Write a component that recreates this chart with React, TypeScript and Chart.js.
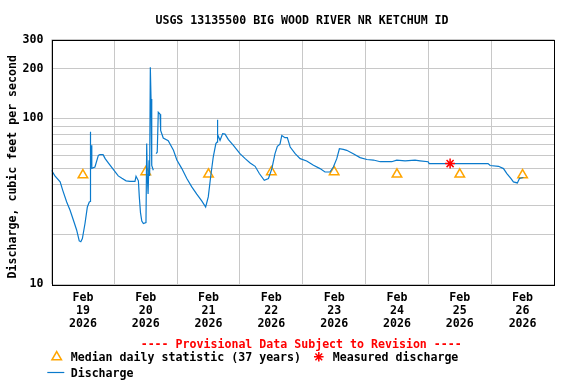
import React, { useEffect, useRef } from "react";
import { Chart, registerables } from "chart.js";

Chart.register(...registerables);

// ---- Text ----
const chartTitle = "USGS 13135500 BIG WOOD RIVER NR KETCHUM ID";
const yAxisTitle = "Discharge, cubic feet per second";
const provisionalNote = "---- Provisional Data Subject to Revision ----";
const legendMedian = "Median daily statistic (37 years)";
const legendMeasured = "Measured discharge";
const legendDischarge = "Discharge";

// ---- Axis labels ----
const monthLabel = "Feb";
const yearLabel = "2026";
const dayLabels = ["19", "20", "21", "22", "23", "24", "25", "26"];
const yTickLabels = [10, 100, 200, 300];
const yGridValues = [10, 20, 30, 40, 50, 60, 70, 80, 90, 100, 200, 300];
const xTickHours = [0, 12, 24, 36, 48, 60, 72, 84, 96, 108, 120, 132, 144, 156, 168, 180, 192];

// ---- Discharge series (hours since Feb 19 00:00, cfs) ----
const hours = [
  0, 1.3, 3.3, 4.3, 5.8, 7.1, 8.6, 9.6, 10.6, 11.2, 11.8, 12.8, 13.7, 14.45, 14.75,
  14.83, 14.98, 15.2, 15.4, 16.6, 17.9, 18.5, 19.7, 20.5, 21.7, 23.6, 25.5, 26.9, 28.5,
  30.0, 31.9, 32.3, 33.2, 33.55, 34.0, 34.5, 35.1, 36.1, 36.38, 36.6, 36.9, 37.26, 37.5,
  37.76, 38.03, 38.3, 38.9, 39.5, 39.95, 40.4, 40.8, 41.5, 41.7, 42.7, 44.6, 46.6, 47.9,
  49.8, 51.7, 53.6, 55.5, 57.4, 58.9, 59.9, 60.8, 61.8, 62.8, 63.25, 63.36, 63.56, 64.4,
  65.4, 66.3, 67.6, 69.5, 72.0, 74.0, 75.9, 77.8, 79.4, 81.3, 82.9, 84.2, 85.4, 86.3,
  87.3, 88.0, 89.2, 90.1, 91.2, 93.1, 95.0, 97.5, 100.1, 102.6, 104.5, 106.4, 107.7,
  109.0, 110.0, 111.5, 112.8, 115.3, 117.9, 120.5, 123.0, 125.6, 130.0, 131.9, 135.1,
  138.9, 140.8, 143.9, 144.3, 152.3, 159.9, 166.8, 167.6, 170.8, 172.7, 174.0, 175.5,
  176.5, 178.0, 178.8, 180.3
];
const discharge: (number | null)[] = [
  48.7, 45, 41.4, 36.8, 31.3, 27.9, 23.7, 21.2, 18.2, 18.0, 18.8, 23.2, 29.2, 31.3, 31.5,
  83, 62, 68.8, 50, 50.9, 59.9, 60.5, 60.5, 57.2, 53.9, 49.2, 45, 43.5, 42,
  41.7, 41.7, 44.8, 42, 33.6, 27, 24, 23.2, 23.5, 70.5, 45, 35, 56, 45,
  204, 131, 52, 48.7, null, 61.3, 62.5, 109, 106, 84.8, 76.2, 73.5, 64.2, 56.1,
  49.8, 43.4, 38.6, 34.9, 31.8, 29.2, 33.6, 44.3, 58.5, 70.5, 72, 98.4, 80, 73.8,
  81, 80.5, 74.5, 68.8, 61.3, 57.2, 53.9, 51.4, 46.5, 42.3, 43.4, 49.8, 61.3, 67.9,
  69.9, 79, 76.6, 76.6, 67.2, 61.3, 57.2, 55.4, 52.1, 49.8, 47.5, 47.5, 50.9,
  57.2, 65.6, 65, 64.2, 61.3, 58, 56.5, 56.1, 54.8, 54.8, 56, 55.5,
  56, 55.5, 54.8, 53.4, 53.4, 53.4, 53.4, 52, 51.4, 49.8, 46.5, 43.4,
  41.4, 40.8, 43.4, 44
];

// ---- Median daily statistic ----
const medianHours = [12, 36, 60, 84, 108, 132, 156, 180];
const medianValues = [45.5, 47.5, 46, 47.5, 47.5, 46, 46, 45.5];

// ---- Measured discharge ----
const measuredHours = [152.3];
const measuredValues = [53.4];

const FONT_FAMILY = '"DejaVu Sans Mono", "Liberation Mono", monospace';
const GRID = "#c8c8c8";
const LINE_BLUE = "#0a7acc";
const ORANGE = "#ffa500";
const RED = "#ff0000";

const overlayPlugin = {
  id: "overlayText",
  afterDraw(chart: any) {
    const { ctx, chartArea } = chart;
    const { left, right, top, bottom } = chartArea;
    ctx.save();
    // frame
    ctx.strokeStyle = "#000";
    ctx.lineWidth = 1;
    ctx.strokeRect(Math.round(left) + 0.5, Math.round(top) + 0.5, Math.round(right - left) - 1, Math.round(bottom - top));

    ctx.font = `bold 11.6px ${FONT_FAMILY}`;
    ctx.fillStyle = "#000";
    ctx.textBaseline = "alphabetic";

    // title
    ctx.textAlign = "center";
    ctx.fillText(chartTitle, 302, 24);

    // y title
    ctx.save();
    ctx.translate(15.5, 166.7);
    ctx.rotate(-Math.PI / 2);
    ctx.textAlign = "center";
    ctx.fillText(yAxisTitle, 0, 0);
    ctx.restore();

    // provisional note
    ctx.fillStyle = RED;
    ctx.textAlign = "center";
    ctx.fillText(provisionalNote, 301.2, 347.5);

    // legend row 1
    ctx.fillStyle = "#000";
    ctx.textAlign = "left";
    ctx.fillText(legendMedian, 70.7, 360.7);
    ctx.fillText(legendMeasured, 332.7, 360.7);
    ctx.fillText(legendDischarge, 70.7, 376.7);

    // triangle symbol
    const r = 5.5;
    const tx = 56.7, ty = 357;
    ctx.strokeStyle = ORANGE;
    ctx.lineWidth = 1.5;
    ctx.beginPath();
    for (let i = 0; i < 3; i++) {
      const a = (i * 2 * Math.PI) / 3;
      const px = tx + Math.sin(a) * r;
      const py = ty - Math.cos(a) * r;
      if (i === 0) ctx.moveTo(px, py); else ctx.lineTo(px, py);
    }
    ctx.closePath();
    ctx.stroke();

    // star symbol
    const sx = 318.8, sy = 356.8, sr = 4.8;
    ctx.strokeStyle = RED;
    ctx.lineWidth = 1.5;
    ctx.beginPath();
    for (let i = 0; i < 4; i++) {
      const a = (i * Math.PI) / 4;
      ctx.moveTo(sx - Math.cos(a) * sr, sy - Math.sin(a) * sr);
      ctx.lineTo(sx + Math.cos(a) * sr, sy + Math.sin(a) * sr);
    }
    ctx.stroke();

    // line symbol
    ctx.strokeStyle = LINE_BLUE;
    ctx.lineWidth = 1.2;
    ctx.beginPath();
    ctx.moveTo(47.3, 372.5);
    ctx.lineTo(64.3, 372.5);
    ctx.stroke();

    ctx.restore();
  },
};

export default function App() {
  const canvasRef = useRef<HTMLCanvasElement | null>(null);

  useEffect(() => {
    const canvas = canvasRef.current;
    if (!canvas) return;
    const lineData = hours.map((h, i) => ({ x: h, y: discharge[i] }));
    const medianData = medianHours.map((h, i) => ({ x: h, y: medianValues[i] }));
    const measuredData = measuredHours.map((h, i) => ({ x: h, y: measuredValues[i] }));
    const tickFont = { family: FONT_FAMILY, size: 11.6, weight: "bold" as const, lineHeight: "13px" };

    const chart = new Chart(canvas, {
      type: "line",
      data: {
        datasets: [
          {
            label: legendMeasured,
            data: measuredData,
            showLine: false,
            pointStyle: "star",
            pointRadius: 5,
            pointBorderColor: RED,
            pointBackgroundColor: RED,
            pointBorderWidth: 1.5,
            order: 1,
          },
          {
            label: legendDischarge,
            data: lineData as any,
            borderColor: LINE_BLUE,
            borderWidth: 1.2,
            pointRadius: 0,
            tension: 0,
            spanGaps: false,
            fill: false,
            order: 2,
          },
          {
            label: legendMedian,
            data: medianData,
            showLine: false,
            pointStyle: "triangle",
            pointRadius: 5.5,
            pointBorderColor: ORANGE,
            pointBackgroundColor: "rgba(0,0,0,0)",
            pointBorderWidth: 1.5,
            order: 3,
          },
        ],
      },
      options: {
        animation: false,
        responsive: false,
        maintainAspectRatio: false,
        events: [],
        layout: { padding: { top: 39.5, right: 22, left: 0, bottom: 0 } },
        plugins: {
          legend: { display: false },
          title: { display: false },
          tooltip: { enabled: false },
        },
        scales: {
          x: {
            type: "linear",
            min: 0,
            max: 192,
            afterBuildTicks: (s: any) => {
              s.ticks = xTickHours.map((v) => ({ value: v }));
            },
            afterFit: (s: any) => {
              s.height = 100;
            },
            grid: {
              color: (c: any) => (c.tick && c.tick.value % 24 === 0 ? GRID : "rgba(0,0,0,0)"),
              drawTicks: false,
              lineWidth: 1,
            },
            border: { display: false },
            ticks: {
              autoSkip: false,
              maxRotation: 0,
              minRotation: 0,
              padding: 7,
              color: "#000",
              font: tickFont,
              callback: (v: any) => {
                const n = Number(v);
                if (n % 24 !== 12) return "";
                const idx = (n - 12) / 24;
                return [monthLabel, dayLabels[idx], yearLabel];
              },
            },
          },
          y: {
            type: "logarithmic",
            min: 10,
            max: 300,
            afterBuildTicks: (s: any) => {
              s.ticks = yGridValues.map((v) => ({ value: v }));
            },
            afterFit: (s: any) => {
              s.width = 51.5;
            },
            grid: { color: GRID, drawTicks: false, lineWidth: 1 },
            border: { display: false },
            ticks: {
              padding: 8,
              color: "#000",
              font: tickFont,
              callback: (v: any) => (yTickLabels.includes(Number(v)) ? String(v) : ""),
            },
          },
        },
      },
      plugins: [overlayPlugin],
    });
    return () => chart.destroy();
  }, []);

  return (
    <div style={{ position: "absolute", left: 0, top: 0, width: 576, height: 384, background: "#fff" }}>
      <canvas ref={canvasRef} width={576} height={384} style={{ display: "block", width: 576, height: 384 }} />
    </div>
  );
}
